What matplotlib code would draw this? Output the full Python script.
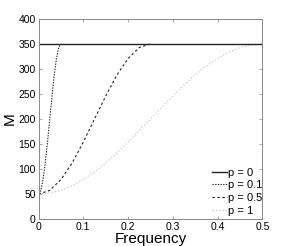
import matplotlib
matplotlib.use("Agg")
import matplotlib.pyplot as plt

plt.rcParams['font.family'] = ['Liberation Sans', 'DejaVu Sans']

# values
freq_p0 = [0.0, 0.5]
m_p0 = [350, 350]

freq_p01 = [0.0, 0.005, 0.01, 0.015, 0.02, 0.025, 0.03, 0.035, 0.04, 0.045, 0.05]
m_p01 = [50, 57, 79, 112, 154, 200, 246, 288, 321, 343, 350]

freq_p05 = [0.0, 0.025, 0.05, 0.075, 0.1, 0.125, 0.15, 0.175, 0.2, 0.225, 0.25]
m_p05 = [50, 57, 79, 112, 154, 200, 246, 288, 321, 343, 350]

freq_p1 = [0.0, 0.025, 0.05, 0.075, 0.1, 0.125, 0.15, 0.175, 0.2, 0.225, 0.25,
           0.275, 0.3, 0.325, 0.35, 0.375, 0.4, 0.425, 0.45, 0.475, 0.5]
m_p1 = [50, 52, 57, 66, 79, 94, 112, 132, 154, 177, 200,
        223, 246, 268, 288, 306, 321, 333, 343, 348, 350]

xticks = [0, 0.1, 0.2, 0.3, 0.4, 0.5]
xticklabels = ['0', '0.1', '0.2', '0.3', '0.4', '0.5']
yticks = [0, 50, 100, 150, 200, 250, 300, 350, 400]

fig = plt.figure(figsize=(2.9, 2.46), dpi=100)
ax = fig.add_axes([0.133, 0.110, 0.772, 0.813])

ax.plot(freq_p1, m_p1, color='#c8c8c8', linestyle=':', linewidth=0.9, label='p = 1')
ax.plot(freq_p05, m_p05, color='#222222', linestyle=(0, (2.2, 2.2)), linewidth=0.8, label='p = 0.5')
ax.plot(freq_p01, m_p01, color='#222222', linestyle=(0, (1.2, 1.2)), linewidth=0.8, label='p = 0.1')
ax.plot(freq_p0, m_p0, color='#222222', linestyle='-', linewidth=1.0, label='p = 0')

ax.set_xlim(0, 0.5)
ax.set_ylim(0, 400)
ax.set_xticks(xticks)
ax.set_xticklabels(xticklabels)
ax.set_yticks(yticks)
ax.tick_params(direction='in', top=True, right=True, length=2.5, width=0.5,
               colors='#888888', labelcolor='black', labelsize=7.5, pad=2)

for s in ax.spines.values():
    s.set_color('#888888')
    s.set_linewidth(0.7)

ax.set_xlabel('Frequency', fontsize=11, labelpad=0)
ax.set_ylabel('M', fontsize=11, labelpad=1)

handles, labels = ax.get_legend_handles_labels()
ax.legend(handles[::-1], labels[::-1], loc='lower left', bbox_to_anchor=(0.775, 0.015),
          frameon=False, fontsize=8, handlelength=1.3, handletextpad=0.15,
          labelspacing=0.25, borderpad=0, borderaxespad=0)

fig.savefig('out.png', dpi=100)
